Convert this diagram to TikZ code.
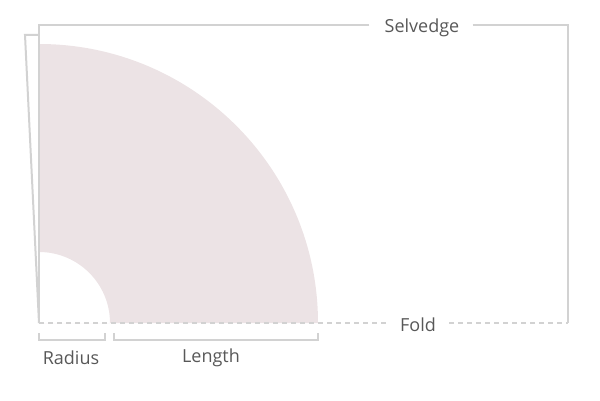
\documentclass[tikz,border=0pt]{standalone}
\usepackage{fontspec}
\setmainfont{Open Sans}
\definecolor{pinkfill}{HTML}{ECE3E5}
\definecolor{linegrey}{HTML}{D2D2D2}
\definecolor{textgrey}{HTML}{585858}
\begin{document}
\begin{tikzpicture}[x=1pt,y=1pt,
  frame/.style={draw=linegrey,line width=2pt},
  foldline/.style={draw=linegrey,line width=1.6pt,dash pattern=on 5pt off 4pt},
  bracket/.style={draw=linegrey,line width=1.6pt},
  lbl/.style={text=textgrey,font=\fontsize{18}{22}\selectfont,inner sep=0pt}]
\useasboundingbox (0,0) rectangle (600,400);
% fabric piece
\fill[pinkfill] (39,77) -- (110,77) arc[start angle=0,end angle=90,radius=71] -- (39,356) arc[start angle=90,end angle=0,radius=279] -- cycle;
% labels
\node[lbl] (sel) at (422,372) {Selvedge};
\node[lbl] (fold) at (418,75) {Fold};
\node[lbl] (rad) at (71,42) {Radius};
\node[lbl] (len) at (211,42) {Length};
% corner coordinates
\coordinate (tl) at (39,375);
\coordinate (tr) at (568,375);
\coordinate (br) at (568,77);
\coordinate (o) at (39,77);
\coordinate (s1) at (39,365);
\coordinate (s2) at (25,365);
% frame
\draw[frame] ([xshift=-15pt]sel.west |- tl) -- (tl) -- (o);
\draw[frame] ([xshift=13pt]sel.east |- tr) -- (tr) -- (br);
\draw[frame] (s1) -- (s2) -- (o);
% fold line
\draw[foldline] (o) -- ([xshift=-13pt]fold.west |- o);
\draw[foldline] ([xshift=13pt]fold.east |- br) -- (br);
% brackets
\coordinate (r1) at (39,67);
\coordinate (r2) at (105,67);
\coordinate (l1) at (114,67);
\coordinate (l2) at (318,67);
\draw[bracket] (r1) -- ++(0,-7) -| (r2);
\draw[bracket] (l1) -- ++(0,-7) -| (l2);
\end{tikzpicture}
\end{document}
